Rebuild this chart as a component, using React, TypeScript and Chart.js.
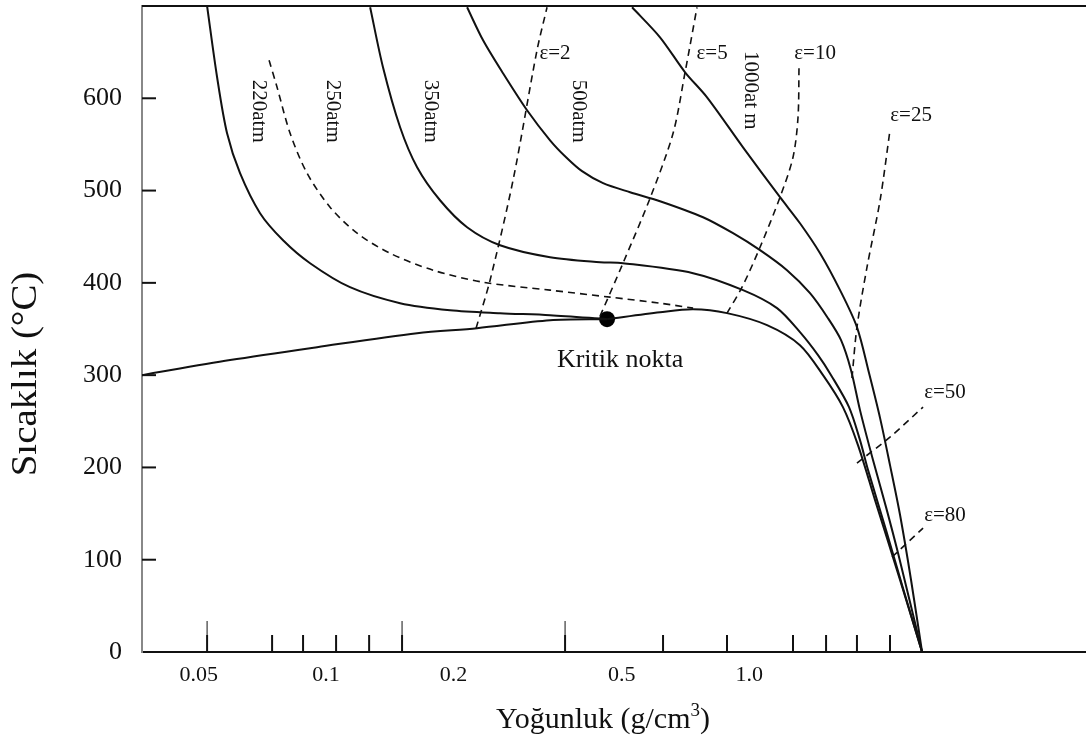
import React, { useEffect, useRef } from "react";
import { Chart, registerables } from "chart.js";

Chart.register(...registerables);

const FONT = "'Liberation Serif', 'Times New Roman', serif";

// Axis definitions
const X_MIN = 0.03673;
const X_MAX = 6.249;
const Y_MIN = 0;
const Y_MAX = 700;
const X_TICK_VALUES = [0.05, 0.1, 0.2, 0.5, 1.0];
const X_TICK_LABELS = ["0.05", "0.1", "0.2", "0.5", "1.0"];
const X_TICK_MARKS = [0.05234, 0.07455, 0.08823, 0.1056, 0.1264, 0.1512, 0.3671, 0.6256, 0.8861, 1.269, 1.519, 1.797, 2.151];
const X_TICK_MARK_LONG = [true, false, false, false, false, true, true, false, false, false, false, false, false];
const Y_TICK_VALUES = [0, 100, 200, 300, 400, 500, 600];

// Isobars (density g/cm3, temperature °C)
const RHO_220 = [0.05234, 0.05527, 0.05835, 0.06262, 0.06982, 0.07913, 0.09167, 0.1139, 0.1496, 0.1963, 0.2577, 0.3383, 0.4613];
const T_220 = [700, 622.8, 562.1, 518.8, 475.5, 446.2, 421.3, 395.3, 378.0, 370.4, 367.2, 365.0, 360.7];

const RHO_250 = [0.07334, 0.0766, 0.08222, 0.09017, 0.1022, 0.1184, 0.1416, 0.179, 0.235, 0.3383, 0.4689, 0.6154, 0.7367];
const T_250 = [641.2, 611.9, 562.1, 518.8, 482.0, 453.8, 432.1, 413.7, 400.7, 392.1, 384.5, 378.0, 372.6];

const RHO_350 = [0.1271, 0.1363, 0.1496, 0.1641, 0.1859, 0.2154, 0.2577, 0.3383, 0.4441, 0.5031, 0.7367, 0.9668, 1.1633, 1.318, 1.454, 1.561, 1.721, 1.827, 1.909, 2.105, 2.297, 2.561];
const T_350 = [698.6, 633.6, 568.6, 525.3, 489.5, 460.3, 440.8, 427.8, 422.4, 421.3, 410.5, 392.1, 372.6, 346.6, 321.7, 300.0, 265.4, 229.6, 197.1, 132.1, 72.6, 0];

const RHO_500 = [0.2154, 0.235, 0.2619, 0.2985, 0.3383, 0.3691, 0.4026, 0.4514, 0.5228, 0.6154, 0.7777, 0.9156, 1.0605, 1.228, 1.392, 1.535, 1.648, 1.74, 1.827, 1.961, 2.105, 2.247, 2.561];
const T_500 = [698.6, 662.8, 627.1, 587.0, 554.5, 536.1, 521.0, 508.0, 498.2, 488.5, 471.1, 453.8, 435.4, 413.7, 388.8, 361.7, 337.9, 305.4, 262.1, 208.0, 157.0, 107.2, 0];

const RHO_1000 = [0.5286, 0.6154, 0.7053, 0.7948, 0.9668, 1.1823, 1.318, 1.47, 1.639, 1.797, 1.919, 2.038, 2.151, 2.272, 2.412, 2.561];
const T_1000 = [698.6, 666.1, 628.2, 601.1, 546.9, 492.8, 464.6, 432.1, 392.1, 352.0, 302.2, 253.4, 202.5, 148.4, 78.0, 0];

// Coexistence curve
const RHO_SAT_V = [0.03673, 0.05932, 0.09522, 0.1641, 0.2274, 0.3383, 0.4613];
const T_SAT_V = [300.0, 316.3, 330.3, 345.5, 350.9, 359.6, 360.7];
const RHO_SAT_L = [0.4613, 0.6154, 0.7367, 0.8861, 1.1018, 1.318, 1.494, 1.665, 1.807, 1.983, 2.272, 2.561];
const T_SAT_L = [360.7, 368.2, 371.5, 367.2, 354.2, 332.5, 300.0, 265.4, 224.2, 164.6, 78.0, 0];

// Dielectric constant lines
const RHO_E2 = [0.2262, 0.2441, 0.2766, 0.3151, 0.3328];
const T_E2 = [350.9, 402.9, 511.2, 652.0, 698.6];
const RHO_E5 = [0.4441, 0.5031, 0.5829, 0.6607, 0.7053, 0.7526];
const T_E5 = [363.9, 421.3, 491.7, 562.1, 628.2, 698.6];
const RHO_E10 = [0.8861, 0.9616, 1.0605, 1.1823, 1.269, 1.304, 1.311];
const T_E10 = [367.2, 395.3, 438.6, 492.8, 536.1, 579.4, 633.6];
const RHO_E25 = [1.749, 1.797, 1.898, 2.038, 2.151];
const T_E25 = [296.8, 352.0, 417.0, 489.5, 565.4];
const RHO_E50 = [1.797, 2.151, 2.575];
const T_E50 = [204.7, 232.9, 265.4];
const RHO_E80 = [2.175, 2.575];
const T_E80 = [102.9, 134.3];

// Critical point
const RHO_CRIT = [0.4613];
const T_CRIT = [360.7];

// Annotations
const ROT_LABEL_TEXT = ["220atm", "250atm", "350atm", "500atm", "1000at m"];
const ROT_LABEL_RHO = [0.06907, 0.1033, 0.1761, 0.394, 1.0044];
const ROT_LABEL_T = [585.9, 585.9, 585.9, 585.9, 608.7];
const EPS_LABEL_TEXT = ["ε=2", "ε=5", "ε=10", "ε=25", "ε=50", "ε=80"];
const EPS_LABEL_RHO = [0.3476, 0.8168, 1.431, 2.412, 2.902, 2.902];
const EPS_LABEL_T = [648.8, 648.8, 648.8, 581.6, 281.6, 148.4];
const CRIT_LABEL_TEXT = "Kritik nokta";
const CRIT_LABEL_RHO = 0.4952;
const CRIT_LABEL_T = 316.3;

const X_TITLE_MAIN = "Yoğunluk (g/cm";
const X_TITLE_SUP = "3";
const X_TITLE_TAIL = ")";
const Y_TITLE = "Sıcaklık (°C)";

const pts = (xs: number[], ys: number[]) => xs.map((x, i) => ({ x, y: ys[i] }));

export default function App() {
  const ref = useRef<HTMLCanvasElement>(null);

  useEffect(() => {
    document.body.style.margin = "0";
    const canvas = ref.current;
    if (!canvas) return;

    const line = (label: string, xs: number[], ys: number[], dashed: boolean) => ({
      label,
      data: pts(xs, ys),
      showLine: true,
      borderColor: "#111",
      backgroundColor: "#111",
      borderWidth: dashed ? 1.6 : 2,
      borderDash: dashed ? [7, 5] : [],
      pointRadius: 0,
      tension: 0.3,
      fill: false,
    });

    const overlay = {
      id: "overlay",
      afterDatasetsDraw(chart: any) {
        const { ctx, chartArea } = chart;
        const xs = chart.scales.x;
        const ys = chart.scales.y;
        ctx.save();
        ctx.strokeStyle = "#111";
        ctx.fillStyle = "#111";
        ctx.lineWidth = 2;
        ctx.beginPath();
        ctx.moveTo(chartArea.left, chartArea.top);
        ctx.lineTo(chartArea.right, chartArea.top);
        ctx.stroke();
        X_TICK_MARKS.forEach((v, i) => {
          const px = xs.getPixelForValue(v);
          ctx.lineWidth = 2;
          ctx.beginPath();
          ctx.moveTo(px, chartArea.bottom);
          ctx.lineTo(px, chartArea.bottom - 17);
          ctx.stroke();
          if (X_TICK_MARK_LONG[i]) {
            ctx.lineWidth = 1;
            ctx.beginPath();
            ctx.moveTo(px, chartArea.bottom - 17);
            ctx.lineTo(px, chartArea.bottom - 31);
            ctx.stroke();
          }
        });
        ctx.lineWidth = 2;
        Y_TICK_VALUES.filter((v) => v > 0).forEach((v) => {
          const py = ys.getPixelForValue(v);
          ctx.beginPath();
          ctx.moveTo(chartArea.left, py);
          ctx.lineTo(chartArea.left + 14, py);
          ctx.stroke();
        });
        ctx.font = `21px ${FONT}`;
        ctx.textAlign = "center";
        ctx.textBaseline = "middle";
        ROT_LABEL_TEXT.forEach((t, i) => {
          const px = xs.getPixelForValue(ROT_LABEL_RHO[i]);
          const py = ys.getPixelForValue(ROT_LABEL_T[i]);
          ctx.save();
          ctx.translate(px, py);
          ctx.rotate(Math.PI / 2);
          ctx.fillText(t, 0, 0);
          ctx.restore();
        });
        EPS_LABEL_TEXT.forEach((t, i) => {
          ctx.fillText(t, xs.getPixelForValue(EPS_LABEL_RHO[i]), ys.getPixelForValue(EPS_LABEL_T[i]));
        });
        ctx.font = `26px ${FONT}`;
        ctx.fillText(CRIT_LABEL_TEXT, xs.getPixelForValue(CRIT_LABEL_RHO), ys.getPixelForValue(CRIT_LABEL_T));
        ctx.restore();
      },
      afterDraw(chart: any) {
        const { ctx } = chart;
        ctx.save();
        ctx.fillStyle = "#111";
        ctx.font = `36px ${FONT}`;
        ctx.textAlign = "center";
        ctx.textBaseline = "middle";
        ctx.translate(27, 374);
        ctx.rotate(-Math.PI / 2);
        ctx.scale(1.08, 1);
        ctx.fillText(Y_TITLE, 0, 0);
        ctx.restore();

        ctx.save();
        ctx.fillStyle = "#111";
        ctx.textBaseline = "alphabetic";
        ctx.textAlign = "left";
        const mainFont = `30px ${FONT}`;
        const supFont = `19px ${FONT}`;
        ctx.font = mainFont;
        const w1 = ctx.measureText(X_TITLE_MAIN).width;
        const w3 = ctx.measureText(X_TITLE_TAIL).width;
        ctx.font = supFont;
        const w2 = ctx.measureText(X_TITLE_SUP).width;
        const cx = 603;
        const base = 728;
        const sx = cx - (w1 + w2 + w3) / 2;
        ctx.font = mainFont;
        ctx.fillText(X_TITLE_MAIN, sx, base);
        ctx.font = supFont;
        ctx.fillText(X_TITLE_SUP, sx + w1, base - 12);
        ctx.font = mainFont;
        ctx.fillText(X_TITLE_TAIL, sx + w1 + w2, base);
        ctx.restore();
      },
    };

    const chart = new Chart(canvas, {
      type: "scatter",
      data: {
        datasets: [
          line("220atm", RHO_220, T_220, false),
          line("250atm", RHO_250, T_250, true),
          line("350atm", RHO_350, T_350, false),
          line("500atm", RHO_500, T_500, false),
          line("1000atm", RHO_1000, T_1000, false),
          line("sat-v", RHO_SAT_V, T_SAT_V, false),
          line("sat-l", RHO_SAT_L, T_SAT_L, false),
          line("ε=2", RHO_E2, T_E2, true),
          line("ε=5", RHO_E5, T_E5, true),
          line("ε=10", RHO_E10, T_E10, true),
          line("ε=25", RHO_E25, T_E25, true),
          line("ε=50", RHO_E50, T_E50, true),
          line("ε=80", RHO_E80, T_E80, true),
          {
            label: "Kritik nokta",
            data: pts(RHO_CRIT, T_CRIT),
            showLine: false,
            pointRadius: 8,
            pointBackgroundColor: "#000",
            pointBorderColor: "#000",
            pointBorderWidth: 0,
          } as any,
        ],
      },
      options: {
        responsive: false,
        animation: false,
        layout: { autoPadding: false, padding: { top: 6, left: 0, right: 0, bottom: 0 } },
        plugins: { legend: { display: false }, tooltip: { enabled: false } },
        scales: {
          x: {
            type: "logarithmic",
            position: "bottom",
            min: X_MIN,
            max: X_MAX,
            afterBuildTicks: (s: any) => {
              s.ticks = X_TICK_VALUES.map((v) => ({ value: v }));
            },
            afterFit: (s: any) => {
              s.height = 90;
              s.paddingLeft = 0;
              s.paddingRight = 0;
            },
            ticks: {
              callback: (_v: any, i: number) => X_TICK_LABELS[i],
              font: { family: FONT, size: 22 },
              color: "#111",
              padding: 10,
              maxRotation: 0,
              autoSkip: false,
            },
            grid: { display: false, drawTicks: false },
            border: { display: true, color: "#111", width: 2 },
          },
          y: {
            type: "linear",
            min: Y_MIN,
            max: Y_MAX,
            afterBuildTicks: (s: any) => {
              s.ticks = Y_TICK_VALUES.map((v) => ({ value: v }));
            },
            afterFit: (s: any) => {
              s.width = 142;
              s.paddingTop = 0;
              s.paddingBottom = 0;
            },
            ticks: {
              callback: (v: any) => String(v),
              font: { family: FONT, size: 26 },
              color: "#111",
              padding: 20,
            },
            grid: { display: false, drawTicks: false },
            border: { display: true, color: "#888", width: 2 },
          },
        },
      },
      plugins: [overlay],
    });

    return () => chart.destroy();
  }, []);

  return (
    <div style={{ width: 1086, height: 742, background: "#fff" }}>
      <canvas ref={ref} width={1086} height={742} style={{ display: "block" }} />
    </div>
  );
}
